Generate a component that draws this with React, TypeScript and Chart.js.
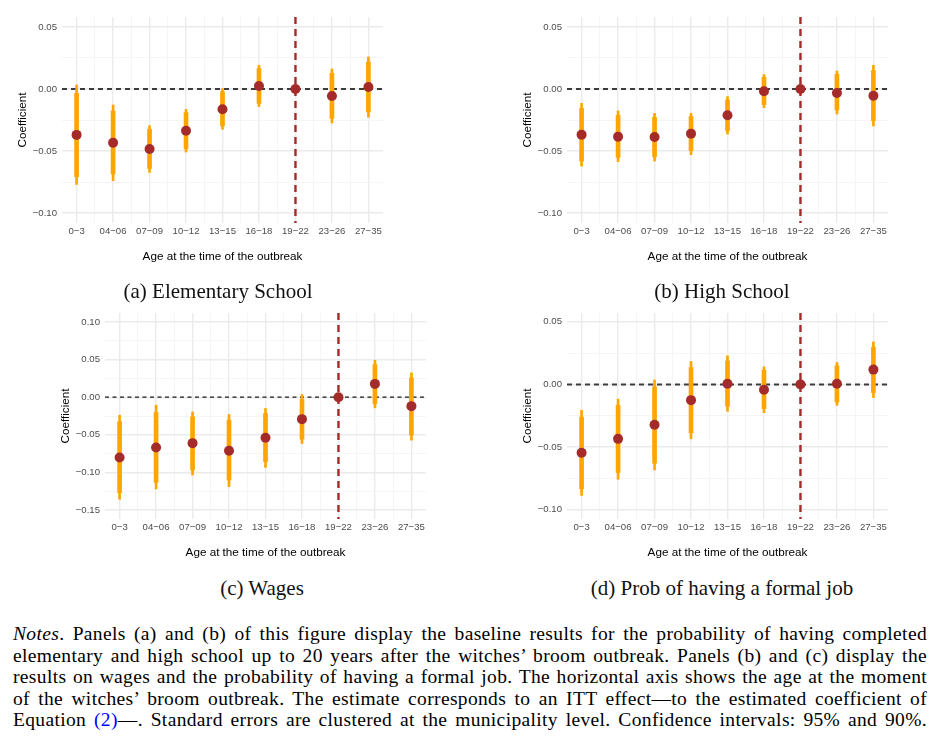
import React, { useEffect, useRef } from 'react';
import { Chart, registerables } from 'chart.js';

Chart.register(...registerables);

// ---------- data ----------
const categories = ['0\u22123', '04\u221206', '07\u221209', '10\u221212', '13\u221215', '16\u221218', '19\u221222', '23\u221226', '27\u221235'];
const referenceCategory = '19\u221222';
const xAxisTitle = 'Age at the time of the outbreak';
const yAxisTitle = 'Coefficient';

// (a) Elementary School
const elemCoef = [-0.0370, -0.0433, -0.0484, -0.0336, -0.0164, 0.0024, 0, -0.0056, 0.0016];
const elemLo95 = [-0.0769, -0.0739, -0.0672, -0.0508, -0.0325, -0.0142, null, -0.0274, -0.0228];
const elemHi95 = [0.0032, -0.0129, -0.0296, -0.0164, 0.0003, 0.0191, null, 0.0161, 0.0258];
const elemLo90 = [-0.0707, -0.0685, -0.0640, -0.0481, -0.0298, -0.0116, null, -0.0237, -0.0185];
const elemHi90 = [-0.0035, -0.0177, -0.0325, -0.0191, -0.0022, 0.0164, null, 0.0126, 0.0218];

// (b) High School
const hsCoef = [-0.0368, -0.0384, -0.0387, -0.0360, -0.0212, -0.0019, 0, -0.0032, -0.0054];
const hsLo95 = [-0.0621, -0.0586, -0.0581, -0.0530, -0.0363, -0.0151, null, -0.0202, -0.0298];
const hsHi95 = [-0.0116, -0.0177, -0.0196, -0.0196, -0.0062, 0.0116, null, 0.0145, 0.0191];
const hsLo90 = [-0.0581, -0.0551, -0.0546, -0.0497, -0.0336, -0.0126, null, -0.0169, -0.0255];
const hsHi90 = [-0.0156, -0.0212, -0.0228, -0.0223, -0.0089, 0.0094, null, 0.0118, 0.0148];

// (c) Wages
const wageCoef = [-0.0801, -0.0668, -0.0611, -0.0712, -0.0540, -0.0292, 0, 0.0177, -0.0119];
const wageLo95 = [-0.1358, -0.1221, -0.1035, -0.1190, -0.0934, -0.0615, null, -0.0142, -0.0571];
const wageHi95 = [-0.0239, -0.0106, -0.0195, -0.0230, -0.0150, 0.0035, null, 0.0491, 0.0323];
const wageLo90 = [-0.1270, -0.1133, -0.0969, -0.1102, -0.0858, -0.0558, null, -0.0084, -0.0504];
const wageHi90 = [-0.0327, -0.0204, -0.0261, -0.0305, -0.0217, -0.0027, null, 0.0434, 0.0257];

// (d) Prob of having a formal job
const jobCoef = [-0.0546, -0.0435, -0.0323, -0.0126, 0.0005, -0.0043, 0, 0.0005, 0.0118];
const jobLo95 = [-0.0887, -0.0758, -0.0683, -0.0435, -0.0215, -0.0226, null, -0.0167, -0.0105];
const jobHi95 = [-0.0207, -0.0118, 0.0035, 0.0183, 0.0228, 0.0140, null, 0.0175, 0.0339];
const jobLo90 = [-0.0833, -0.0704, -0.0629, -0.0387, -0.0175, -0.0194, null, -0.0140, -0.0065];
const jobHi90 = [-0.0261, -0.0167, -0.0019, 0.0134, 0.0188, 0.0113, null, 0.0148, 0.0296];

// y ticks
const smallYTicks = [-0.10, -0.05, 0, 0.05];
const smallYMinor = [-0.075, -0.025, 0.025];
const wageYTicks = [-0.15, -0.10, -0.05, 0, 0.05, 0.10];
const wageYMinor = [-0.125, -0.075, -0.025, 0.025, 0.075];

const captions = ['(a) Elementary School', '(b) High School', '(c) Wages', '(d) Prob of having a formal job'];

// ---------- styles ----------
const ORANGE = '#FFA500';
const BROWN = '#A52A2A';
const SANS = '"Liberation Sans", Arial, Helvetica, sans-serif';
const SERIF = '"Liberation Serif", "Times New Roman", serif';
const CANVAS_W = 393;
const CANVAS_H = 270;

const fmtTick = (v: number) => (v < -1e-9 ? '\u2212' : '') + Math.abs(v).toFixed(2);

const refLinesPlugin = {
  id: 'refLines',
  beforeDatasetsDraw(chart: any, _args: any, opts: any) {
    const { ctx, chartArea, scales } = chart;
    const y0 = scales.y.getPixelForValue(0);
    const xr = scales.x.getPixelForValue(opts.refIndex);
    ctx.save();
    ctx.lineCap = 'butt';
    ctx.strokeStyle = opts.zeroColor;
    ctx.lineWidth = opts.zeroWidth;
    ctx.setLineDash(opts.zeroDash);
    ctx.beginPath();
    ctx.moveTo(chartArea.left, y0);
    ctx.lineTo(chartArea.right, y0);
    ctx.stroke();
    ctx.strokeStyle = BROWN;
    ctx.lineWidth = 2.4;
    ctx.setLineDash([7, 5]);
    ctx.beginPath();
    ctx.moveTo(xr, chartArea.top);
    ctx.lineTo(xr, chartArea.bottom);
    ctx.stroke();
    ctx.restore();
  },
};

type PanelProps = {
  left: number;
  top: number;
  coef: number[];
  lo95: (number | null)[];
  hi95: (number | null)[];
  lo90: (number | null)[];
  hi90: (number | null)[];
  yMin: number;
  yMax: number;
  yTicks: number[];
  yMinor: number[];
  zeroColor: string;
  zeroWidth: number;
  zeroDash: number[];
};

function Panel(p: PanelProps) {
  const ref = useRef<HTMLCanvasElement>(null);
  useEffect(() => {
    const n = categories.length;
    const refIndex = categories.indexOf(referenceCategory);
    const interval = (lo: (number | null)[], hi: (number | null)[]) =>
      categories
        .map((_, i) => ({ i, lo: lo[i], hi: hi[i] }))
        .filter((d) => d.lo != null && d.hi != null)
        .map((d) => ({ x: d.i, y: [d.lo as number, d.hi as number] }));
    const xTickValues: number[] = [];
    categories.forEach((_, i) => {
      xTickValues.push(i);
      if (i < n - 1) xTickValues.push(i + 0.5);
    });
    const yTickValues = [...p.yTicks, ...p.yMinor].sort((a, b) => a - b);
    const isMajorY = (v: number) => p.yTicks.some((t) => Math.abs(t - v) < 1e-9);
    const isMajorX = (v: number) => Math.abs(v - Math.round(v)) < 1e-9;

    const chart = new Chart(ref.current as HTMLCanvasElement, {
      type: 'bar',
      data: {
        datasets: [
          {
            type: 'line',
            data: categories.map((_, i) => ({ x: i, y: p.coef[i] })),
            showLine: false,
            pointRadius: 5,
            pointHoverRadius: 5,
            pointBackgroundColor: BROWN,
            pointBorderColor: BROWN,
            pointBorderWidth: 0,
            borderColor: BROWN,
            order: 0,
          } as any,
          {
            type: 'bar',
            data: interval(p.lo90, p.hi90),
            backgroundColor: ORANGE,
            borderWidth: 0,
            barThickness: 4,
            grouped: false,
            order: 1,
          } as any,
          {
            type: 'bar',
            data: interval(p.lo95, p.hi95),
            backgroundColor: ORANGE,
            borderWidth: 0,
            barThickness: 2,
            grouped: false,
            order: 2,
          } as any,
        ],
      },
      options: {
        animation: false,
        responsive: false,
        maintainAspectRatio: false,
        events: [],
        layout: { padding: { top: 17, right: 10, bottom: 0, left: 0 } },
        plugins: {
          legend: { display: false },
          tooltip: { enabled: false },
          refLines: { refIndex, zeroColor: p.zeroColor, zeroWidth: p.zeroWidth, zeroDash: p.zeroDash },
        } as any,
        scales: {
          x: {
            type: 'linear',
            min: -0.4,
            max: n - 1 + 0.4,
            offset: false,
            afterBuildTicks: (s: any) => {
              s.ticks = xTickValues.map((v) => ({ value: v }));
            },
            afterFit: (s: any) => {
              s.height = CANVAS_H - 17 - 206;
            },
            border: { display: false },
            grid: {
              offset: false,
              drawTicks: false,
              color: (c: any) => (isMajorX(c.tick.value) ? '#EBEBEB' : '#F2F2F2'),
              lineWidth: (c: any) => (isMajorX(c.tick.value) ? 1.4 : 0.8),
            },
            ticks: {
              autoSkip: false,
              maxRotation: 0,
              minRotation: 0,
              padding: 3,
              color: '#4D4D4D',
              font: { family: SANS, size: 9.6 },
              callback: (v: any) => (isMajorX(v) ? categories[Math.round(v)] : ''),
            },
            title: {
              display: true,
              text: xAxisTitle,
              color: '#000000',
              font: { family: SANS, size: 11.7 },
              padding: { top: 0, bottom: 6 },
            },
          },
          y: {
            type: 'linear',
            min: p.yMin,
            max: p.yMax,
            beginAtZero: false,
            afterBuildTicks: (s: any) => {
              s.ticks = yTickValues.map((v) => ({ value: v }));
            },
            afterFit: (s: any) => {
              s.width = 62;
            },
            border: { display: false },
            grid: {
              drawTicks: false,
              color: (c: any) => (isMajorY(c.tick.value) ? '#EBEBEB' : '#F2F2F2'),
              lineWidth: (c: any) => (isMajorY(c.tick.value) ? 1.4 : 0.8),
            },
            ticks: {
              autoSkip: false,
              padding: 5,
              color: '#4D4D4D',
              font: { family: SANS, size: 9.6 },
              callback: (v: any) => (isMajorY(v) ? fmtTick(v) : ''),
            },
            title: {
              display: true,
              text: yAxisTitle,
              color: '#000000',
              font: { family: SANS, size: 11.7 },
              padding: { top: 16, bottom: 0 },
            },
          },
        },
      } as any,
      plugins: [refLinesPlugin as any],
    });
    return () => chart.destroy();
  }, []);
  return (
    <canvas
      ref={ref}
      width={CANVAS_W}
      height={CANVAS_H}
      style={{ position: 'absolute', left: p.left, top: p.top, width: CANVAS_W, height: CANVAS_H }}
    />
  );
}

const captionStyle = (cx: number, top: number): React.CSSProperties => ({
  position: 'absolute',
  left: cx - 200,
  top,
  width: 400,
  textAlign: 'center',
  fontFamily: SERIF,
  fontSize: 21,
  lineHeight: '24px',
  color: '#111',
  whiteSpace: 'nowrap',
});

const noteLines: React.ReactNode[] = [
  <>
    <i>Notes</i>. Panels (a) and (b) of this figure display the baseline results for the probability of having completed
  </>,
  <>elementary and high school up to 20 years after the witches’ broom outbreak. Panels (b) and (c) display the</>,
  <>results on wages and the probability of having a formal job. The horizontal axis shows the age at the moment</>,
  <>of the witches’ broom outbreak. The estimate corresponds to an ITT effect—to the estimated coefficient of</>,
  <>
    Equation <span style={{ color: '#0000FF' }}>(2)</span>—. Standard errors are clustered at the municipality level. Confidence intervals: 95% and 90%.
  </>,
];

export default function App() {
  const zeroDark = { zeroColor: '#3C3C3C', zeroWidth: 2, zeroDash: [5, 4] };
  const zeroThin = { zeroColor: '#1A1A1A', zeroWidth: 1.3, zeroDash: [4, 3.5] };
  return (
    <div style={{ position: 'absolute', left: 0, top: 0, width: 940, height: 750, background: '#ffffff', overflow: 'hidden' }}>
      <Panel left={0} top={0} coef={elemCoef} lo95={elemLo95} hi95={elemHi95} lo90={elemLo90} hi90={elemHi90}
        yMin={-0.108} yMax={0.058} yTicks={smallYTicks} yMinor={smallYMinor} {...zeroDark} />
      <Panel left={505} top={0} coef={hsCoef} lo95={hsLo95} hi95={hsHi95} lo90={hsLo90} hi90={hsHi90}
        yMin={-0.108} yMax={0.058} yTicks={smallYTicks} yMinor={smallYMinor} {...zeroDark} />
      <Panel left={43} top={296} coef={wageCoef} lo95={wageLo95} hi95={wageHi95} lo90={wageLo90} hi90={wageHi90}
        yMin={-0.162} yMax={0.112} yTicks={wageYTicks} yMinor={wageYMinor} {...zeroThin} />
      <Panel left={505} top={296} coef={jobCoef} lo95={jobLo95} hi95={jobHi95} lo90={jobLo90} hi90={jobHi90}
        yMin={-0.1075} yMax={0.057} yTicks={smallYTicks} yMinor={smallYMinor} {...zeroDark} />

      <div style={captionStyle(218, 279)}>{captions[0]}</div>
      <div style={captionStyle(722, 279)}>{captions[1]}</div>
      <div style={captionStyle(262, 576)}>{captions[2]}</div>
      <div style={captionStyle(722, 576)}>{captions[3]}</div>

      <div style={{ position: 'absolute', left: 13, top: 623, width: 914, fontFamily: SERIF, fontSize: 19.5, letterSpacing: '0.35px', lineHeight: '21.5px', color: '#000' }}>
        {noteLines.map((ln, i) => (
          <div key={i} style={{ textAlign: 'justify', textAlignLast: 'justify', height: 21.5, whiteSpace: 'nowrap' }}>
            {ln}
          </div>
        ))}
      </div>
    </div>
  );
}
